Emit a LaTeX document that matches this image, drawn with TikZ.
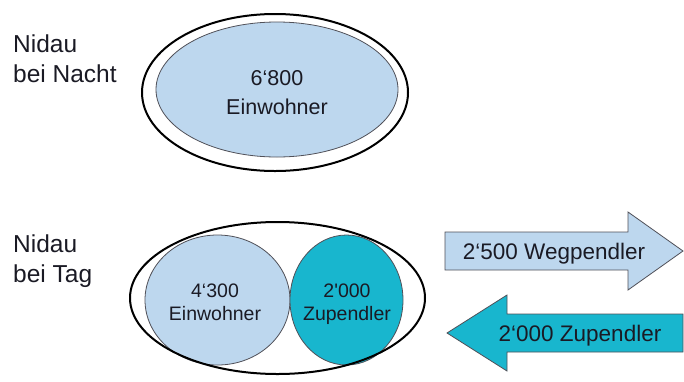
\documentclass[tikz,border=0pt]{standalone}
\usepackage{fontspec}
\setmainfont{Liberation Sans}
\usetikzlibrary{shapes.geometric}
\definecolor{lightb}{HTML}{BDD7EE}
\definecolor{tealc}{HTML}{18B6CE}
\definecolor{txt}{HTML}{1A1A24}
\definecolor{edge}{HTML}{505058}
\begin{document}
\begin{tikzpicture}[x=1pt,y=-1pt,
  outerring/.style={ellipse,draw=black,line width=2pt,inner sep=0pt},
  innerfill/.style={ellipse,draw=edge,line width=0.8pt,inner sep=0pt},
  lbl/.style={anchor=base west,inner sep=0pt,text=txt,font=\fontsize{24.5}{28}\selectfont},
  bigtxt/.style={anchor=base,inner sep=0pt,text=txt,font=\fontsize{21.5}{26}\selectfont},
  smalltxt/.style={anchor=base,inner sep=0pt,text=txt,font=\fontsize{19.5}{24}\selectfont},
  arrtxt/.style={anchor=base,inner sep=0pt,text=txt,font=\fontsize{22.5}{26}\selectfont},
  arrowshape/.style={draw=edge,line width=0.8pt,line join=miter}]
\useasboundingbox (0,0) rectangle (684,381);

% labels
\node[lbl] (l1) at (13,52) {Nidau};
\node[lbl] (l2) at (13,82) {bei Nacht};
\node[lbl] (l3) at (13,252) {Nidau};
\node[lbl] (l4) at (13,282) {bei Tag};

% night
\node[outerring,minimum width=266pt,minimum height=157pt] (nightout) at (275,92.5) {};
\node[innerfill,fill=lightb,minimum width=242pt,minimum height=135pt] (nightin) at (277,89.5) {};
\node[bigtxt] (n1) at (277,85) {6‘800};
\node[bigtxt] (n2) at (277,114) {Einwohner};

% day
\node[innerfill,fill=lightb,minimum width=145pt,minimum height=130pt] (ein) at (217.5,300) {};
\node[innerfill,fill=tealc,minimum width=113pt,minimum height=130pt] (zup) at (346.5,300) {};
\node[outerring,minimum width=295pt,minimum height=152pt] (dayout) at (277.5,298) {};
\node[smalltxt] (e1) at (215,297) {4‘300};
\node[smalltxt] (e2) at (215,320) {Einwohner};
\node[smalltxt] (z1) at (347,297) {2\textquotesingle000};
\node[smalltxt] (z2) at (347,320) {Zupendler};

% arrows
\draw[arrowshape,fill=lightb] (445,232) -- (628,232) -- (628,212) -- (683,251)
  -- (628,290) -- (628,270) -- (445,270) -- cycle;
\node[arrtxt] (w) at (554,259) {2‘500 Wegpendler};
\draw[arrowshape,fill=tealc] (683,314) -- (507,314) -- (507,295) -- (447,333)
  -- (507,371) -- (507,352) -- (683,352) -- cycle;
\node[arrtxt] (zz) at (580,341) {2‘000 Zupendler};
\end{tikzpicture}
\end{document}
